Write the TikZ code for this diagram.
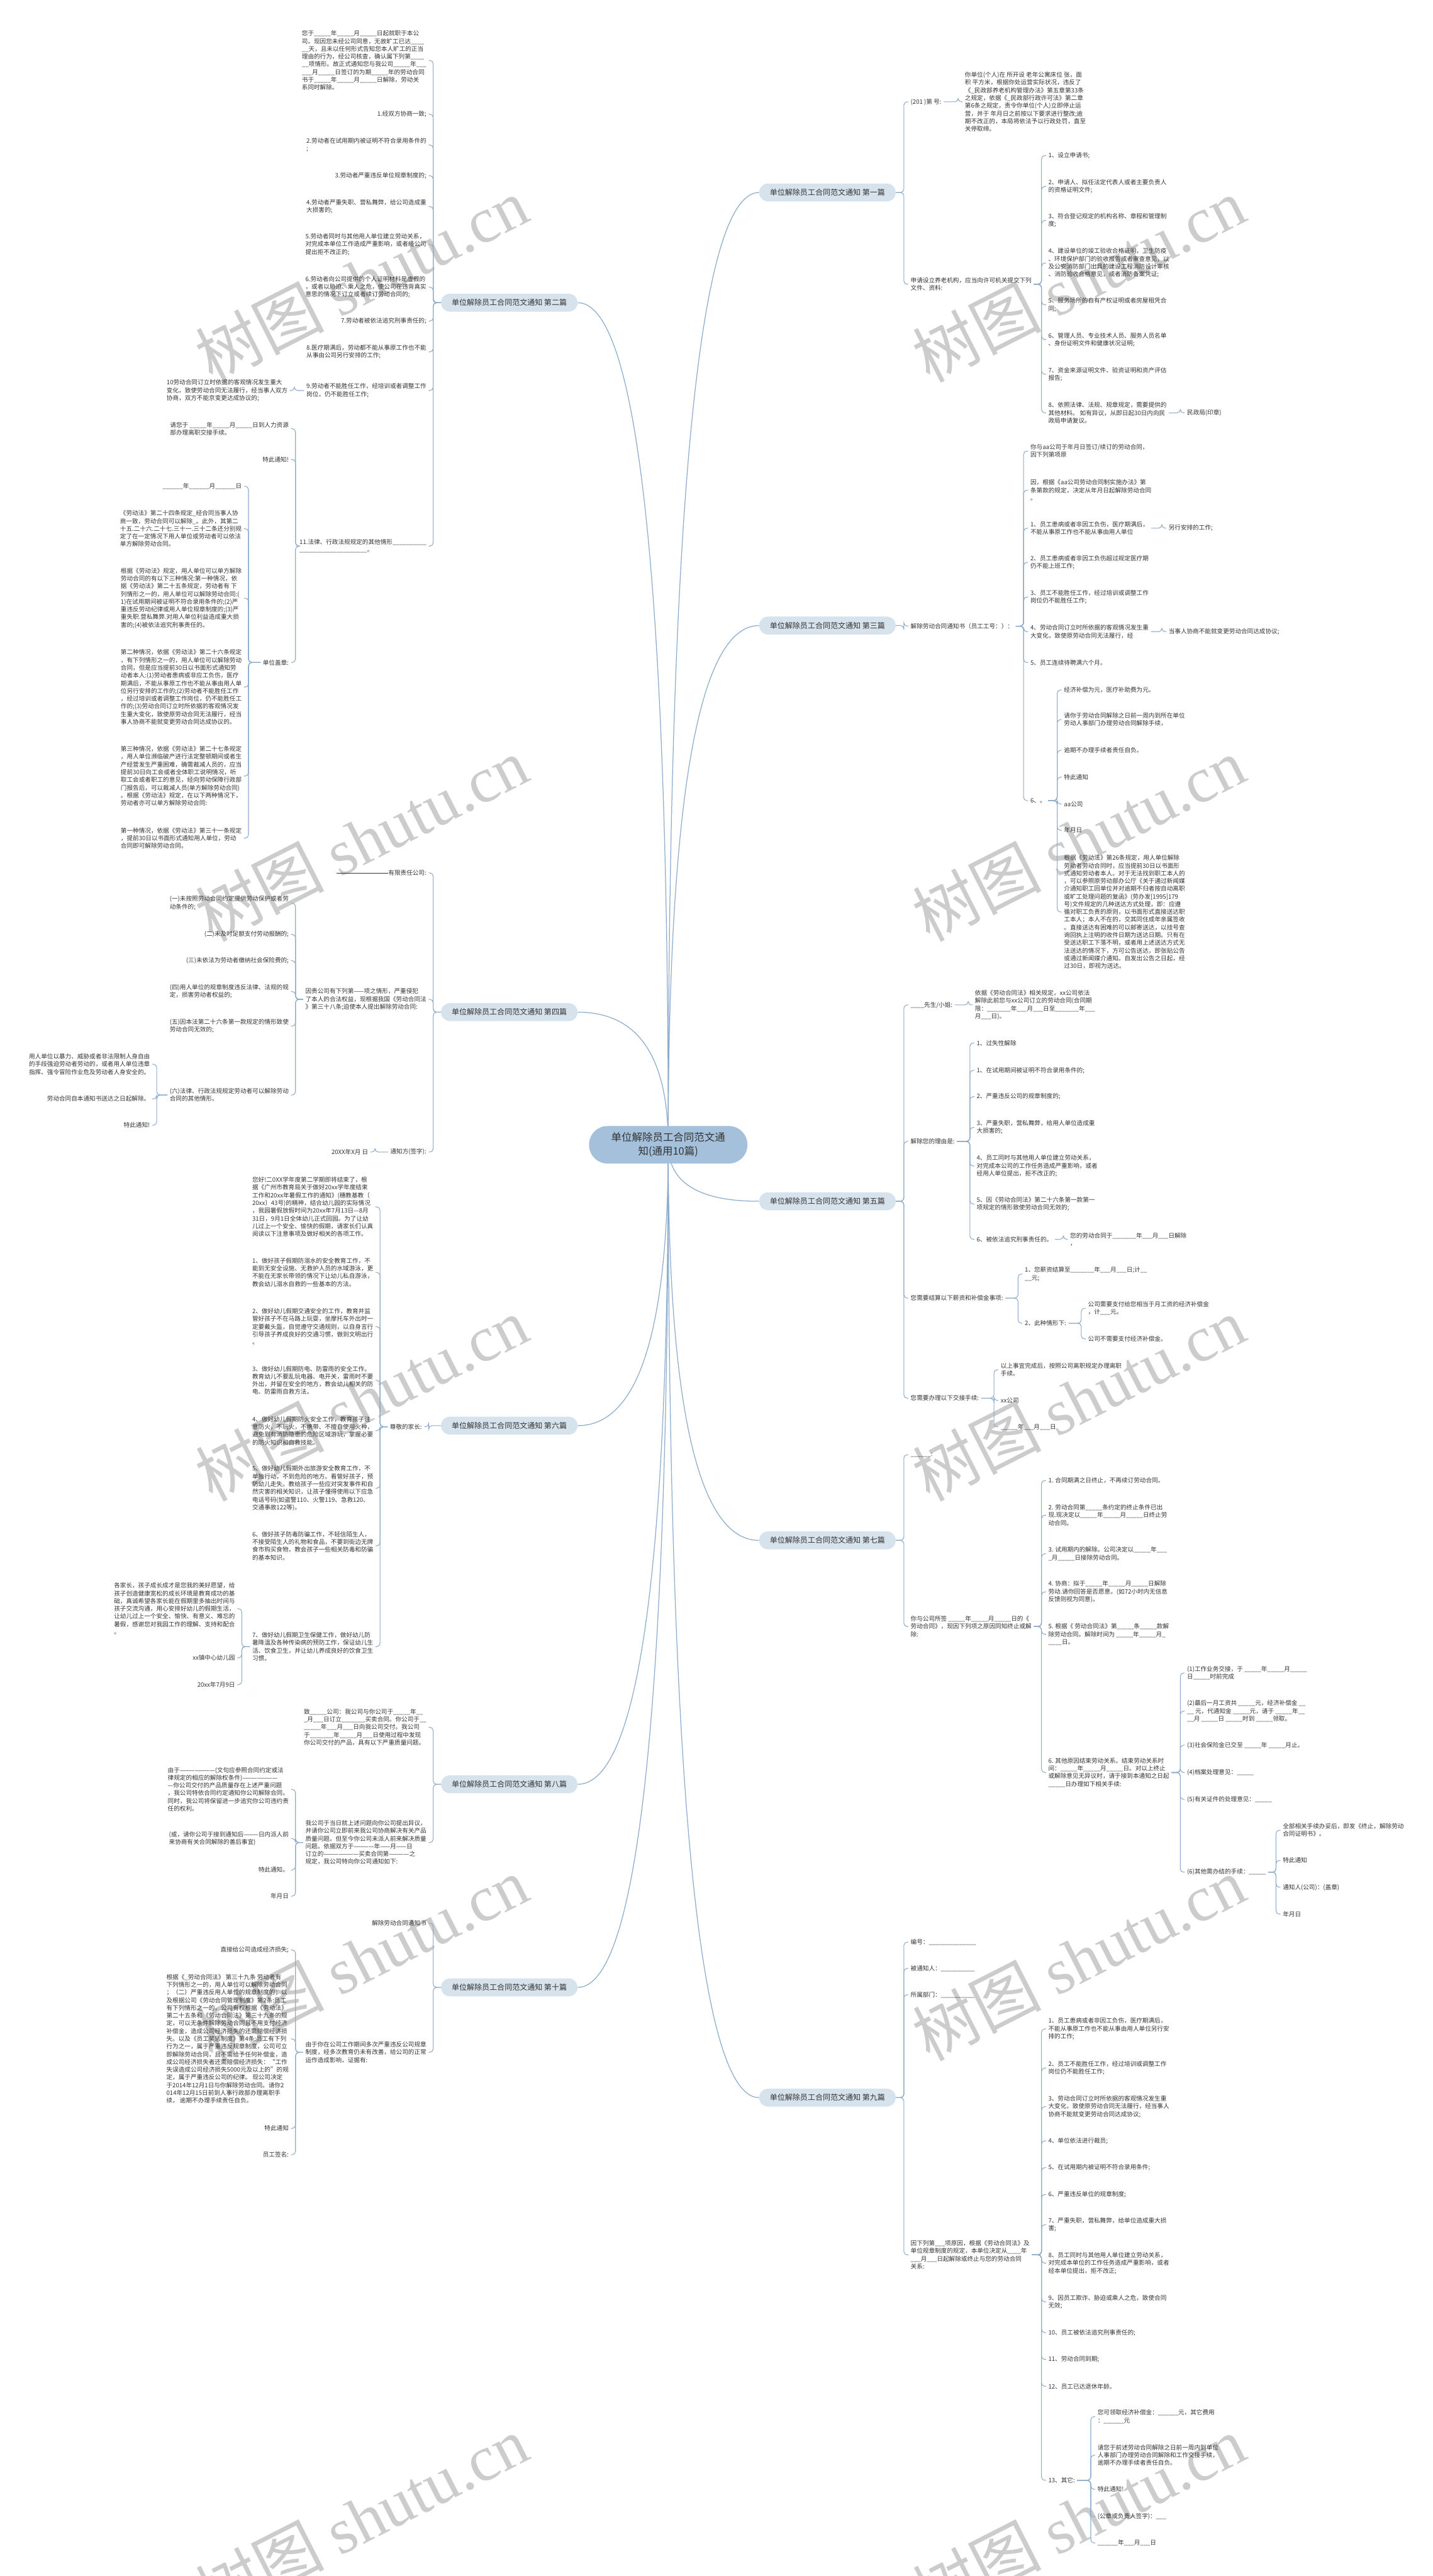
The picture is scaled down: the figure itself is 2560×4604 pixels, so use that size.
\documentclass[tikz,border=0pt]{standalone}
\usepackage{fontspec}
\setmainfont{Noto Sans CJK SC}
\newfontfamily\wmserif{Liberation Serif}
\usetikzlibrary{calc}
\definecolor{linec}{HTML}{8EACCB}
\definecolor{cenfill}{HTML}{A4C0DB}
\definecolor{brfill}{HTML}{D6E2EC}
\definecolor{txtc}{HTML}{333333}
\definecolor{wmc}{HTML}{CCCCCC}
\pgfdeclarelayer{bg}
\pgfsetlayers{bg,main}
\tikzset{
 nt/.style={font=\fontsize{10.8}{13.8}\selectfont, text=txtc, align=left, inner xsep=4pt, inner ysep=2pt},
 nr/.style={nt, anchor=west},
 nl/.style={nt, anchor=east},
 conn/.style={draw=linec, line width=1.2pt, rounded corners=6pt},
 mconn/.style={draw=linec, line width=1.4pt},
 brst/.style={fill=brfill, rounded corners=16pt, minimum width=244pt, minimum height=32pt, inner sep=0pt, font=\fontsize{13.5}{16}\selectfont, text=txtc},
 censt/.style={fill=cenfill, rounded corners=33pt, minimum width=283pt, minimum height=67pt, inner sep=0pt, align=center, font=\fontsize{18.5}{25}\selectfont, text=txtc},
 wm/.style={text=wmc, font=\fontsize{115}{115}\selectfont, rotate=27, inner sep=0pt}
}
\newcommand\Rcon[2]{\draw[conn] (#1.east) -| ([xshift=-8pt]#2.west) -- (#2.west);}
\newcommand\Lcon[2]{\draw[conn] (#1.west) -| ([xshift=8pt]#2.east) -- (#2.east);}
\newcommand\Mcon[2]{\path (cen.center|-#1.#2) coordinate (tmpc);
 \draw[mconn] (cen.center) .. controls ($(cen.center)!0.667!(tmpc)$) and ($(#1.#2)!0.667!(tmpc)$) .. (#1.#2);}
\begin{document}
\catcode`\_=12
\begin{tikzpicture}[x=1pt,y=-1pt]
\useasboundingbox (0,0) rectangle (2560,4604);
\begin{pgfonlayer}{bg}
\fill[white] (0,0) rectangle (2560,4604);
\node[wm] (w1) at (646,500) {树图 {\wmserif shutu.cn}};
\node[wm] (w2) at (646,1500) {树图 {\wmserif shutu.cn}};
\node[wm] (w3) at (646,2500) {树图 {\wmserif shutu.cn}};
\node[wm] (w4) at (646,3500) {树图 {\wmserif shutu.cn}};
\node[wm] (w5) at (646,4500) {树图 {\wmserif shutu.cn}};
\node[wm] (w6) at (1927,500) {树图 {\wmserif shutu.cn}};
\node[wm] (w7) at (1927,1500) {树图 {\wmserif shutu.cn}};
\node[wm] (w8) at (1927,2500) {树图 {\wmserif shutu.cn}};
\node[wm] (w9) at (1927,3500) {树图 {\wmserif shutu.cn}};
\node[wm] (w10) at (1927,4500) {树图 {\wmserif shutu.cn}};
\end{pgfonlayer}

% central and branches
\node[censt] (cen) at (1194,2046) {单位解除员工合同范文通\\知(通用10篇)};
\node[brst] (b1) at (1478.5,344) {单位解除员工合同范文通知 第一篇};
\node[brst] (b2) at (910,541) {单位解除员工合同范文通知 第二篇};
\node[brst] (b3) at (1478.5,1118) {单位解除员工合同范文通知 第三篇};
\node[brst] (b4) at (910,1809) {单位解除员工合同范文通知 第四篇};
\node[brst] (b5) at (1478.5,2147) {单位解除员工合同范文通知 第五篇};
\node[brst] (b6) at (910,2548) {单位解除员工合同范文通知 第六篇};
\node[brst] (b7) at (1478.5,2753) {单位解除员工合同范文通知 第七篇};
\node[brst] (b8) at (910,3189) {单位解除员工合同范文通知 第八篇};
\node[brst] (b9) at (1478.5,3749) {单位解除员工合同范文通知 第九篇};
\node[brst] (b10) at (910,3552) {单位解除员工合同范文通知 第十篇};

% ===== 第二篇 =====
\node[nl] (p2a) at (766,108) {您于_____年_____月_____日起就职于本公\\司。现因您未经公司同意，无故旷工已达____\\__天，且未以任何形式告知您本人旷工的正当\\理由的行为，经公司核查，确认属下列第____\\__项情形。故正式通知您与我公司_____年___\\___月_____日签订的为期_____年的劳动合同\\书于_____年_____月_____日解除，劳动关\\系同时解除。};
\node[nl] (p2b) at (766,204) {1.经双方协商一致;};
\node[nl] (p2c) at (766,259) {2.劳动者在试用期内被证明不符合录用条件的\\;};
\node[nl] (p2d) at (766,314) {3.劳动者严重违反单位规章制度的;};
\node[nl] (p2e) at (766,369) {4.劳动者严重失职、营私舞弊，给公司造成重\\大损害的;};
\node[nl] (p2f) at (766,437) {5.劳动者同时与其他用人单位建立劳动关系，\\对完成本单位工作造成严重影响，或者经公司\\提出拒不改正的;};
\node[nl] (p2g) at (766,513) {6.劳动者向公司提供的个人证明材料是虚假的\\，或者以胁迫、乘人之危，使公司在违背真实\\意思的情况下订立或者续订劳动合同的;};
\node[nl] (p2h) at (766,574) {7.劳动者被依法追究刑事责任的;};
\node[nl] (p2i) at (766,629) {8.医疗期满后，劳动都不能从事原工作也不能\\从事由公司另行安排的工作;};
\node[nl] (p2j) at (766,698) {9.劳动者不能胜任工作，经培训或者调整工作\\岗位，仍不能胜任工作;};
\node[nl] (p2k) at (766,976) {11.法律、行政法规规定的其他情形__________\\____________________。};
\node[nl] (p2j1) at (518,698) {10劳动合同订立时依据的客观情况发生重大\\变化，致使劳动合同无法履行，经当事人双方\\协商，双方不能京变更达成协议的;};
\node[nl] (p2k1) at (520,766) {请您于 _____年_____月_____日到人力资源\\部办理离职交接手续。};
\node[nl] (p2k2) at (520,821) {特此通知!};
\node[nl] (p2k3) at (520,1184) {单位盖章:};
\node[nl] (p2m1) at (436,869) {______年______月______日};
\node[nl] (p2m2) at (436,945) {《劳动法》第二十四条规定_经合同当事人协\\商一致，劳动合同可以解除_。此外，其第二\\十五.二十六.二十七.三十一.三十二条还分别规\\定了在一定情况下用人单位或劳动者可以依法\\单方解除劳动合同。};
\node[nl] (p2m3) at (436,1069) {根据《劳动法》规定，用人单位可以单方解除\\劳动合同的有以下三种情况:第一种情况，依\\据《劳动法》第二十五条规定，劳动者有 下\\列情形之一的，用人单位可以解除劳动合同:(\\1)在试用期间被证明不符合录用条件的;(2)严\\重违反劳动纪律或用人单位规章制度的;(3)严\\重失职.营私舞弊.对用人单位利益造成重大损\\害的;(4)被依法追究刑事责任的。};
\node[nl] (p2m4) at (436,1228) {第二种情况，依据《劳动法》第二十六条规定\\，有下列情形之一的，用人单位可以解除劳动\\合同，但是应当提前30日以书面形式通知劳\\动者本人:(1)劳动者患病或非应工负伤，医疗\\期满后，不能从事原工作也不能从事由用人单\\位另行安排的工作的;(2)劳动者不能胜任工作\\，经过培训或者调整工作岗位，仍不能胜任工\\作的;(3)劳动合同订立时所依据的客观情况发\\生重大变化，致使原劳动合同无法履行，经当\\事人协商不能就变更劳动合同达成协议的。};
\node[nl] (p2m5) at (436,1387) {第三种情况，依据《劳动法》第二十七条规定\\，用人单位濒临破产进行法定整顿期间或者生\\产经营发生严重困难，确需裁减人员的，应当\\提前30日向工会或者全体职工说明情况，听\\取工会或者职工的意见，经向劳动保障行政部\\门报告后，可以裁减人员(单方解除劳动合同)\\。根据《劳动法》规定，在以下两种情况下，\\劳动者亦可以单方解除劳动合同:};
\node[nl] (p2m6) at (436,1498) {第一种情况，依据《劳动法》第三十一条规定\\，提前30日以书面形式通知用人单位，劳动\\合同即可解除劳动合同。};

% ===== 第四篇 =====
\node[nl] (p4a) at (766,1560) {\rule[3.6pt]{93pt}{0.6pt}有限责任公司:};
\node[nl] (p4b) at (766,1786) {因贵公司有下列第——项之情形，严重侵犯\\了本人的合法权益，现根据我国《劳动合同法\\》第三十八条;迫使本人提出解除劳动合同:};
\node[nl] (p4c) at (766,2059) {通知方(签字):};
\node[nl] (p4c1) at (662,2059) {20XX年X月 日};
\node[nl] (p4b1) at (520,1614) {(一)未按照劳动合同约定提供劳动保护或者劳\\动条件的;};
\node[nl] (p4b2) at (520,1670) {(二)未及时足额支付劳动报酬的;};
\node[nl] (p4b3) at (520,1717) {(三)未依法为劳动者缴纳社会保险费的;};
\node[nl] (p4b4) at (520,1772) {(四)用人单位的规章制度违反法律、法规的规\\定，损害劳动者权益的;};
\node[nl] (p4b5) at (520,1834) {(五)因本法第二十六条第一款规定的情形致使\\劳动合同无效的;};
\node[nl] (p4b6) at (520,1957) {(六)法律、行政法规规定劳动者可以解除劳动\\合同的其他情形。};
\node[nl] (p4m1) at (272,1902) {用人单位以暴力、威胁或者非法限制人身自由\\的手段强迫劳动者劳动的，或者用人单位违章\\指挥、强令冒险作业危及劳动者人身安全的。};
\node[nl] (p4m2) at (272,1964) {劳动合同自本通知书送达之日起解除。};
\node[nl] (p4m3) at (272,2011) {特此通知!};

% ===== 第六篇 =====
\node[nl] (p6a) at (758,2550) {尊敬的家长:};
\node[nl] (p6a1) at (671,2157) {您好!二0XX学年度第二学期即将结束了，根\\据《广州市教育局关于做好20xx学年度结束\\工作和20xx年暑假工作的通知》(穗教基教〔\\20xx〕43号)的精神，结合幼儿园的实际情况\\，我园暑假放假时间为20xx年7月13日—8月\\31日，9月1日全体幼儿正式回园。为了让幼\\儿过上一个安全、愉快的假期，请家长们认真\\阅读以下注意事项及做好相关的各项工作。};
\node[nl] (p6a2) at (671,2274) {1、做好孩子假期防溺水的安全教育工作，不\\能到无安全设施、无救护人员的水域游泳，更\\不能在无家长带领的情况下让幼儿私自游泳，\\教会幼儿溺水自救的一些基本的方法。};
\node[nl] (p6a3) at (671,2371) {2、做好幼儿假期交通安全的工作，教育并监\\管好孩子不在马路上玩耍，坐摩托车外出时一\\定要戴头盔，自觉遵守交通规则，以自身言行\\引导孩子养成良好的交通习惯，做到文明出行\\。};
\node[nl] (p6a4) at (671,2467) {3、做好幼儿假期防电、防雷雨的安全工作。\\教育幼儿不要乱玩电器、电开关，雷雨时不要\\外出，并留在安全的地方，教会幼儿相关的防\\电、防雷雨自救方法。};
\node[nl] (p6a5) at (671,2557) {4、做好幼儿假期防火安全工作，教育孩子注\\意防火，不玩火，不携带、不擅自使用火种，\\避免到有消防隐患的危险区域游玩，掌握必要\\的防火知识和自救技能。};
\node[nl] (p6a6) at (671,2660) {5、做好幼儿假期外出旅游安全教育工作，不\\单独行动，不到危险的地方。看管好孩子，预\\防幼儿走失。教给孩子一些应对突发事件和自\\然灾害的相关知识，让孩子懂得使用以下应急\\电话号码(如盗警110、火警119、急救120、\\交通事故122等)。};
\node[nl] (p6a7) at (671,2763) {6、做好孩子防毒防骗工作，不轻信陌生人，\\不接受陌生人的礼物和食品，不要到街边无牌\\食市购买食物，教会孩子一些相关防毒和防骗\\的基本知识。};
\node[nl] (p6a8) at (671,2943) {7、做好幼儿假期卫生保健工作，做好幼儿防\\暑降温及各种传染病的预防工作，保证幼儿生\\活、饮食卫生，并让幼儿养成良好的饮食卫生\\习惯。};
\node[nl] (p6m1) at (424,2875) {各家长，孩子成长成才是您我的美好愿望，给\\孩子创造健康宽松的成长环境是教育成功的基\\础，真诚希望各家长能在假期里多抽出时间与\\孩子交流沟通，用心安排好幼儿的假期生活，\\让幼儿过上一个安全、愉快、有意义、难忘的\\暑假，感谢您对我园工作的理解、支持和配合\\。};
\node[nl] (p6m2) at (424,2963) {xx镇中心幼儿园};
\node[nl] (p6m3) at (424,3011) {20xx年7月9日};

% ===== 第八篇 =====
\node[nl] (p8a) at (766,3087) {致_____公司：我公司与你公司于_____年__\\_月___日订立_______买卖合同。你公司于__\\_____年___月___日向我公司交付。我公司\\于_______年_____月___日使用过程中发现\\你公司交付的产品，具有以下严重质量问题。};
\node[nl] (p8b) at (766,3293) {我公司于当日就上述问题向你公司提出异议，\\并请你公司立即前来我公司协商解决有关产品\\质量问题。但至今你公司未派人前来解决质量\\问题。依据双方于————年——月——日\\订立的———————买卖合同第————之\\规定，我公司特向你公司通知如下:};
\node[nl] (p8b1) at (520,3198) {由于———————(文句应参照合同约定或法\\律规定的相应的解除权条件)———————\\—你公司交付的产品质量存在上述严重问题\\，我公司特依合同约定通知你公司解除合同。\\同时，我公司将保留进一步追究你公司违约责\\任的权利。};
\node[nl] (p8b2) at (520,3286) {(或，请你公司于接到通知后———日内派人前\\来协商有关合同解除的善后事宜)};
\node[nl] (p8b3) at (520,3342) {特此通知。};
\node[nl] (p8b4) at (520,3389) {年月日};

% ===== 第十篇 =====
\node[nl] (p10a) at (766,3437) {解除劳动合同通知书};
\node[nl] (p10b) at (766,3668) {由于你在公司工作期间多次严重违反公司规章\\制度，经多次教育仍未有改善，给公司的正常\\运作造成影响，证据有:};
\node[nl] (p10b1) at (520,3485) {直接给公司造成经济损失;};
\node[nl] (p10b2) at (520,3644) {根据《_劳动合同法》 第三十九条 劳动者有\\下列情形之一的，用人单位可以解除劳动合同\\；（二）严重违反用人单位的规章制度的；以\\及根据公司《劳动合同管理制度》第2条:员工\\有下列情形之一的，公司有权根据《劳动法》\\第二十五条和《劳动合同法》第三十九条的规\\定，可以无条件解除劳动合同且不用支付经济\\补偿金，造成公司经济损失的还需赔偿经济损\\失。以及《员工奖惩制度》第4条:员工有下列\\行为之一，属于严重违反规章制度，公司可立\\即解除劳动合同，且不需给予任何补偿金，造\\成公司经济损失者还需赔偿经济损失：“工作\\失误造成公司经济损失5000元及以上的”的规\\定，属于严重违反公司的纪律。 现公司决定\\于2014年12月1日与你解除劳动合同。请你2\\014年12月15日前到人事行政部办理离职手\\续， 逾期不办理手续责任自负。};
\node[nl] (p10b3) at (520,3804) {特此通知};
\node[nl] (p10b4) at (520,3851) {员工签名:};

% ===== 第一篇 =====
\node[nr] (p1a) at (1623,182) {(201 )第 号:};
\node[nr] (p1a1) at (1720,182) {你单位(个人)在 所开设 老年公寓床位 张，面\\积 平方米，根据你处运营实际状况，违反了\\《_民政部养老机构管理办法》第五章第33条\\之规定，依据《_民政部行政许可法》第二章\\第6条之规定，责令你单位(个人)立即停止运\\营，并于 年月日之前按以下要求进行整改;逾\\期不改正的，本局将依法予以行政处罚，直至\\关停取缔。};
\node[nr] (p1b) at (1623,508) {申请设立养老机构，应当向许可机关提交下列\\文件、资料:};
\node[nr] (p1b1) at (1869,278) {1、设立申请书;};
\node[nr] (p1b2) at (1869,333) {2、申请人、拟任法定代表人或者主要负责人\\的资格证明文件;};
\node[nr] (p1b3) at (1869,394) {3、符合登记规定的机构名称、章程和管理制\\度;};
\node[nr] (p1b4) at (1869,470) {4、建设单位的竣工验收合格证明，卫生防疫\\、环境保护部门的验收报告或者审查意见，以\\及公安消防部门出具的建设工程消防设计审核\\、消防验收合格意见，或者消防备案凭证;};
\node[nr] (p1b5) at (1869,545) {5、服务场所的自有产权证明或者房屋租凭合\\同;};
\node[nr] (p1b6) at (1869,607) {6、管理人员、专业技术人员、服务人员名单\\、身份证明文件和健康状况证明;};
\node[nr] (p1b7) at (1869,669) {7、资金来源证明文件、验资证明和资产评估\\报告;};
\node[nr] (p1b8) at (1869,738) {8、依照法律、法规、规章规定，需要提供的\\其他材料。 如有异议，从即日起30日内向民\\政局申请复议。};
\node[nr] (p1b8a) at (2117,738) {民政局(印章)};

% ===== 第三篇 =====
\node[nr] (p3a) at (1623,1119) {解除劳动合同通知书（员工工号：）：};
\node[nr] (p3a1) at (1837,806) {你与aa公司于年月日签订/续订的劳动合同，\\因下列第项原};
\node[nr] (p3a2) at (1837,876) {因，根据《aa公司劳动合同制实施办法》第\\条第款的规定，决定从年月日起解除劳动合同\\。};
\node[nr] (p3a3) at (1837,944) {1、员工患病或者非因工负伤，医疗期满后，\\不能从事原工作也不能从事由用人单位};
\node[nr] (p3a3x) at (2084,944) {另行安排的工作;};
\node[nr] (p3a4) at (1837,1005) {2、员工患病或者非因工负伤超过规定医疗期\\仍不能上班工作;};
\node[nr] (p3a5) at (1837,1067) {3、员工不能胜任工作，经过培训或调整工作\\岗位仍不能胜任工作;};
\node[nr] (p3a6) at (1837,1129) {4、劳动合同订立时所依据的客观情况发生重\\大变化，致使原劳动合同无法履行，经};
\node[nr] (p3a6x) at (2084,1129) {当事人协商不能就变更劳动合同达成协议;};
\node[nr] (p3a7) at (1837,1184) {5、员工连续待聘满六个月。};
\node[nr] (p3a8) at (1837,1431) {6、。};
\node[nr] (p3m1) at (1897,1233) {经济补偿为元，医疗补助费为元。};
\node[nr] (p3m2) at (1897,1286) {请你于劳动合同解除之日前一周内到所在单位\\劳动人事部门办理劳动合同解除手续，};
\node[nr] (p3m3) at (1897,1341) {逾期不办理手续者责任自负。};
\node[nr] (p3m4) at (1897,1389) {特此通知};
\node[nr] (p3m5) at (1897,1437) {aa公司};
\node[nr] (p3m6) at (1897,1484) {年月日};
\node[nr] (p3m7) at (1897,1630) {根据《劳动法》第26条规定，用人单位解除\\劳动者劳动合同时，应当提前30日以书面形\\式通知劳动者本人。对于无法找到职工本人的\\，可以参照原劳动部办公厅《关于通过新闻媒\\介通知职工回单位并对逾期不归者按自动离职\\或旷工处理问题的复函》(劳办发[1995]179\\号)文件规定的几种送达方式处理，即：应遵\\循对职工负责的原则，以书面形式直接送达职\\工本人；本人不在的，交其同住成年亲属签收\\。直接送达有困难的可以邮寄送达，以挂号查\\询回执上注明的收件日期为送达日期。只有在\\受送达职工下落不明，或者用上述送达方式无\\法送达的情况下，方可公告送达，即张贴公告\\或通过新闻媒介通知。自发出公告之日起，经\\过30日，即视为送达。};

% ===== 第五篇 =====
\node[nr] (p5a) at (1623,1796) {____先生/小姐:};
\node[nr] (p5a1) at (1738,1796) {依据《劳动合同法》相关规定，xx公司依法\\解除此前您与xx公司订立的劳动合同(合同期\\限：_______年___月___日至_______年___\\月___日)。};
\node[nr] (p5b) at (1623,2040) {解除您的理由是:};
\node[nr] (p5b1) at (1741,1864) {1、过失性解除};
\node[nr] (p5b2) at (1741,1913) {1、在试用期间被证明不符合录用条件的;};
\node[nr] (p5b3) at (1741,1960) {2、严重违反公司的规章制度的;};
\node[nr] (p5b4) at (1741,2015) {3、严重失职，营私舞弊，给用人单位造成重\\大损害的;};
\node[nr] (p5b5) at (1741,2084) {4、员工同时与其他用人单位建立劳动关系，\\对完成本公司的工作任务造成严重影响，或者\\经用人单位提出，拒不改正的;};
\node[nr] (p5b6) at (1741,2152) {5、因《劳动合同法》第二十六条第一款第一\\项规定的情形致使劳动合同无效的;};
\node[nr] (p5b7) at (1741,2215) {6、被依法追究刑事责任的。};
\node[nr] (p5b7x) at (1908,2215) {您的劳动合同于_______年___月___日解除\\，};
\node[nr] (p5c) at (1623,2320) {您需要结算以下薪资和补偿金事项:};
\node[nr] (p5c1) at (1827,2277) {1、您薪资结算至_______年___月___日;计__\\__元;};
\node[nr] (p5c2) at (1827,2365) {2、此种情形下:};
\node[nr] (p5c2a) at (1940,2338) {公司需要支付给您相当于月工资的经济补偿金\\，计___元。};
\node[nr] (p5c2b) at (1940,2393) {公司不需要支付经济补偿金。};
\node[nr] (p5d) at (1623,2499) {您需要办理以下交接手续:};
\node[nr] (p5d1) at (1784,2448) {以上事宜完成后，按照公司离职规定办理离职\\手续。};
\node[nr] (p5d2) at (1784,2503) {xx公司};
\node[nr] (p5d3) at (1784,2550) {_____年___月___日};

% ===== 第七篇 =====
\node[nr] (p7a) at (1623,2600) {______:};
\node[nr] (p7b) at (1623,2907) {你与公司所签 _____年_____月_____日的《\\劳动合同》，现因下列项之原因同知终止或解\\除:};
\node[nr] (p7b1) at (1869,2646) {1. 合同期满之日终止，不再续订劳动合同。};
\node[nr] (p7b2) at (1869,2708) {2. 劳动合同第_____条约定的终止条件已出\\现.现决定以_____年_____月_____日终止劳\\动合同。};
\node[nr] (p7b3) at (1869,2777) {3. 试用期内的解除。公司决定以_____年___\\_月_____日接除劳动合同。};
\node[nr] (p7b4) at (1869,2845) {4. 协商：拟于_____年_____月_____日解除\\劳动.请你回答是否愿意。(如72小时内无信息\\反馈则视为同意)。};
\node[nr] (p7b5) at (1869,2921) {5. 根据《 劳动合同法》第_____条_____款解\\除劳动合同。解除时间为 _____年_____月_\\____日。};
\node[nr] (p7b6) at (1869,3168) {6. 其他原因结束劳动关系。结束劳动关系时\\间：_____年_____月_____日。对以上终止\\或解除意见无异议时，请于接到本通知之日起\\_____日办理如下相关手续:};
\node[nr] (p7m1) at (2117,2990) {(1)工作业务交接，于 _____年_____月_____\\日_____时前完成};
\node[nr] (p7m2) at (2117,3058) {(2)最后一月工资共 _____元，经济补偿金 __\\__ 元，代通知金 _____元，请于 _____年__\\__月 _____日 _____时到 _____领取。};
\node[nr] (p7m3) at (2117,3119) {(3)社会保险金已交至 _____年 _____月止。};
\node[nr] (p7m4) at (2117,3168) {(4)档案处理意见：_____};
\node[nr] (p7m5) at (2117,3216) {(5)有关证件的处理意见：_____};
\node[nr] (p7m6) at (2117,3346) {(6)其他需办结的手续：_____};
\node[nr] (p7h1) at (2288,3271) {全部相关手续办妥后，即发《终止，解除劳动\\合同证明书》。};
\node[nr] (p7h2) at (2288,3325) {特此通知};
\node[nr] (p7h3) at (2288,3373) {通知人(公司)：(盖章)};
\node[nr] (p7h4) at (2288,3421) {年月日};

% ===== 第九篇 =====
\node[nr] (p9a) at (1623,3471) {编号：______________};
\node[nr] (p9b) at (1623,3518) {被通知人：__________};
\node[nr] (p9c) at (1623,3565) {所属部门：__________};
\node[nr] (p9d) at (1623,4030) {因下列第___项原因，根据《劳动合同法》及\\单位规章制度的规定，本单位决定从____年\\___月___日起解除或终止与您的劳动合同\\关系:};
\node[nr] (p9d1) at (1869,3626) {1、员工患病或者非因工负伤，医疗期满后，\\不能从事原工作也不能从事由用人单位另行安\\排的工作;};
\node[nr] (p9d2) at (1869,3696) {2、员工不能胜任工作，经过培训或调整工作\\岗位仍不能胜任工作;};
\node[nr] (p9d3) at (1869,3765) {3、劳动合同订立时所依据的客观情况发生重\\大变化，致使原劳动合同无法履行，经当事人\\协商不能就变更劳动合同达成协议;};
\node[nr] (p9d4) at (1869,3826) {4、单位依法进行裁员;};
\node[nr] (p9d5) at (1869,3874) {5、在试用期内被证明不符合录用条件;};
\node[nr] (p9d6) at (1869,3922) {6、严重违反单位的规章制度;};
\node[nr] (p9d7) at (1869,3976) {7、严重失职，营私舞弊，给单位造成重大损\\害;};
\node[nr] (p9d8) at (1869,4045) {8、员工同时与其他用人单位建立劳动关系，\\对完成本单位的工作任务造成严重影响，或者\\经本单位提出，拒不改正;};
\node[nr] (p9d9) at (1869,4114) {9、因员工欺诈、胁迫或乘人之危，致使合同\\无效;};
\node[nr] (p9d10) at (1869,4169) {10、员工被依法追究刑事责任的;};
\node[nr] (p9d11) at (1869,4217) {11、劳动合同到期;};
\node[nr] (p9d12) at (1869,4265) {12、员工已达退休年龄。};
\node[nr] (p9d13) at (1869,4433) {13、其它:};
\node[nr] (p9m1) at (1957,4319) {您可领取经济补偿金：______元，其它费用\\：______元};
\node[nr] (p9m2) at (1957,4388) {请您于前述劳动合同解除之日前一周内到单位\\人事部门办理劳动合同解除和工作交接手续，\\逾期不办理手续者责任自负。};
\node[nr] (p9m3) at (1957,4449) {特此通知!};
\node[nr] (p9m4) at (1957,4498) {(公章或负责人签字)：___};
\node[nr] (p9m5) at (1957,4545) {______年___月___日};

\begin{pgfonlayer}{bg}
% main links
\Mcon{b1}{west}\Mcon{b3}{west}\Mcon{b5}{west}\Mcon{b7}{west}\Mcon{b9}{west}
\Mcon{b2}{east}\Mcon{b4}{east}\Mcon{b6}{east}\Mcon{b8}{east}\Mcon{b10}{east}
% 第二篇
\foreach \c in {p2a,p2b,p2c,p2d,p2e,p2f,p2g,p2h,p2i,p2j,p2k} {\Lcon{b2}{\c}}
\Lcon{p2j}{p2j1}
\foreach \c in {p2k1,p2k2,p2k3} {\Lcon{p2k}{\c}}
\foreach \c in {p2m1,p2m2,p2m3,p2m4,p2m5,p2m6} {\Lcon{p2k3}{\c}}
% 第四篇
\foreach \c in {p4a,p4b,p4c} {\Lcon{b4}{\c}}
\Lcon{p4c}{p4c1}
\foreach \c in {p4b1,p4b2,p4b3,p4b4,p4b5,p4b6} {\Lcon{p4b}{\c}}
\foreach \c in {p4m1,p4m2,p4m3} {\Lcon{p4b6}{\c}}
% 第六篇
\Lcon{b6}{p6a}
\foreach \c in {p6a1,p6a2,p6a3,p6a4,p6a5,p6a6,p6a7,p6a8} {\Lcon{p6a}{\c}}
\foreach \c in {p6m1,p6m2,p6m3} {\Lcon{p6a8}{\c}}
% 第八篇
\foreach \c in {p8a,p8b} {\Lcon{b8}{\c}}
\foreach \c in {p8b1,p8b2,p8b3,p8b4} {\Lcon{p8b}{\c}}
% 第十篇
\foreach \c in {p10a,p10b} {\Lcon{b10}{\c}}
\foreach \c in {p10b1,p10b2,p10b3,p10b4} {\Lcon{p10b}{\c}}
% 第一篇
\foreach \c in {p1a,p1b} {\Rcon{b1}{\c}}
\Rcon{p1a}{p1a1}
\foreach \c in {p1b1,p1b2,p1b3,p1b4,p1b5,p1b6,p1b7,p1b8} {\Rcon{p1b}{\c}}
\Rcon{p1b8}{p1b8a}
% 第三篇
\Rcon{b3}{p3a}
\foreach \c in {p3a1,p3a2,p3a3,p3a4,p3a5,p3a6,p3a7,p3a8} {\Rcon{p3a}{\c}}
\Rcon{p3a3}{p3a3x}
\Rcon{p3a6}{p3a6x}
\foreach \c in {p3m1,p3m2,p3m3,p3m4,p3m5,p3m6,p3m7} {\Rcon{p3a8}{\c}}
% 第五篇
\foreach \c in {p5a,p5b,p5c,p5d} {\Rcon{b5}{\c}}
\Rcon{p5a}{p5a1}
\foreach \c in {p5b1,p5b2,p5b3,p5b4,p5b5,p5b6,p5b7} {\Rcon{p5b}{\c}}
\Rcon{p5b7}{p5b7x}
\foreach \c in {p5c1,p5c2} {\Rcon{p5c}{\c}}
\foreach \c in {p5c2a,p5c2b} {\Rcon{p5c2}{\c}}
\foreach \c in {p5d1,p5d2,p5d3} {\Rcon{p5d}{\c}}
% 第七篇
\foreach \c in {p7a,p7b} {\Rcon{b7}{\c}}
\foreach \c in {p7b1,p7b2,p7b3,p7b4,p7b5,p7b6} {\Rcon{p7b}{\c}}
\foreach \c in {p7m1,p7m2,p7m3,p7m4,p7m5,p7m6} {\Rcon{p7b6}{\c}}
\foreach \c in {p7h1,p7h2,p7h3,p7h4} {\Rcon{p7m6}{\c}}
% 第九篇
\foreach \c in {p9a,p9b,p9c,p9d} {\Rcon{b9}{\c}}
\foreach \c in {p9d1,p9d2,p9d3,p9d4,p9d5,p9d6,p9d7,p9d8,p9d9,p9d10,p9d11,p9d12,p9d13} {\Rcon{p9d}{\c}}
\foreach \c in {p9m1,p9m2,p9m3,p9m4,p9m5} {\Rcon{p9d13}{\c}}
\end{pgfonlayer}
\end{tikzpicture}
\end{document}
